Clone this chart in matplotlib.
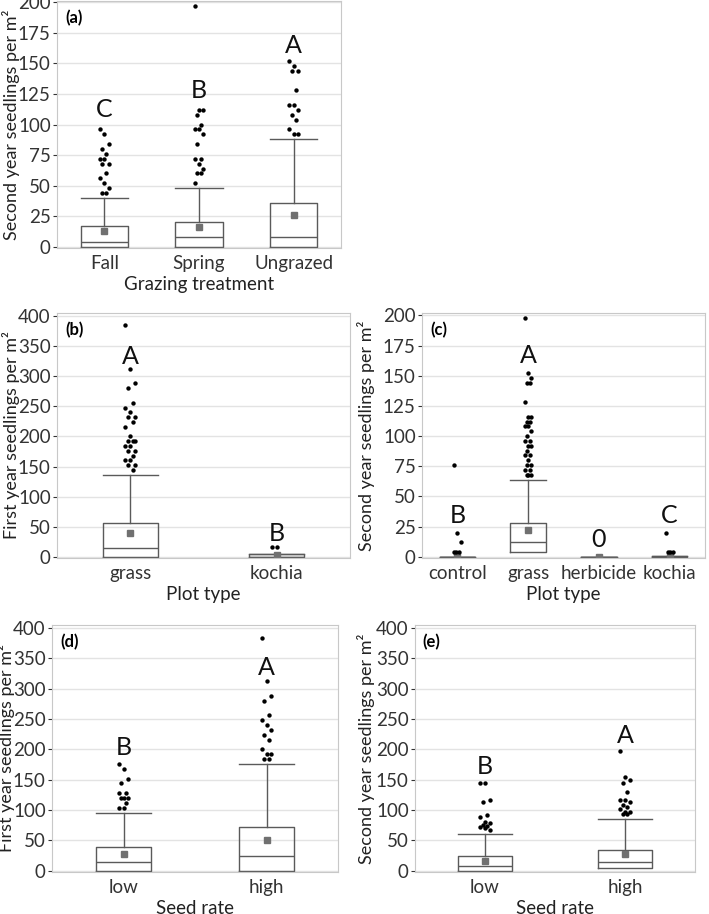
import numpy as np
import matplotlib
matplotlib.use("Agg")
import matplotlib.pyplot as plt

plt.rcParams["font.family"] = ["Lato", "DejaVu Sans"]

# ---- panel (a): second year seedlings by grazing treatment
graze_cats = ["Fall", "Spring", "Ungrazed"]
graze_q1 = [0, 0, 0]
graze_med = [3.5, 8, 8]
graze_q3 = [17, 20, 36]
graze_whi = [40, 48, 88]
graze_mean = [13, 16.5, 26]
graze_out = [
    [96, 92, 84, 80, 76, 72, 72, 68, 68, 60, 56, 52, 48, 44, 44],
    [197, 112, 112, 108, 100, 96, 96, 92, 84, 72, 72, 68, 64, 60, 60, 52],
    [152, 148, 144, 144, 128, 116, 116, 112, 108, 104, 96, 92, 92],
]
graze_letters = ["C", "B", "A"]
graze_letter_y = [112, 128, 165]

# ---- panel (b): first year seedlings by plot type
plot1_cats = ["grass", "kochia"]
plot1_q1 = [0, 0]
plot1_med = [15, 0]
plot1_q3 = [56, 4]
plot1_whi = [136, 4]
plot1_mean = [39, 3]
plot1_out = [
    [385, 312, 288, 280, 256, 248, 240, 232, 232, 224, 216, 200, 192, 192,
     192, 184, 184, 176, 176, 168, 160, 160, 152, 152, 144],
    [16, 16],
]
plot1_letters = ["A", "B"]
plot1_letter_y = [333, 39]

# ---- panel (c): second year seedlings by plot type
plot2_cats = ["control", "grass", "herbicide", "kochia"]
plot2_q1 = [0, 4, 0, 0]
plot2_med = [0, 12, 0, 0]
plot2_q3 = [0, 28, 0, 1]
plot2_whi = [0, 64, 0, 1]
plot2_mean = [0.5, 22, 0, 1]
plot2_out = [
    [76, 20, 12, 4, 4, 4],
    [198, 152, 148, 144, 144, 128, 116, 116, 112, 112, 108, 108, 104, 100,
     96, 96, 92, 92, 88, 84, 84, 80, 76, 76, 72, 72, 68, 68, 68],
    [],
    [20, 4, 4, 4],
]
plot2_letters = ["B", "A", "0", "C"]
plot2_letter_y = [34, 167, 14, 34]

# ---- panel (d): first year seedlings by seed rate
rate1_cats = ["low", "high"]
rate1_q1 = [0, 0]
rate1_med = [15, 24]
rate1_q3 = [39, 72]
rate1_whi = [96, 176]
rate1_mean = [27, 50]
rate1_out = [
    [176, 168, 152, 144, 128, 128, 120, 120, 120, 112, 104, 104],
    [383, 312, 288, 280, 256, 249, 240, 232, 224, 216, 200, 192, 192, 184, 184],
]
rate1_letters = ["B", "A"]
rate1_letter_y = [203, 335]

# ---- panel (e): second year seedlings by seed rate
rate2_cats = ["low", "high"]
rate2_q1 = [0, 4]
rate2_med = [8, 14]
rate2_q3 = [24, 35]
rate2_whi = [61, 85]
rate2_mean = [16, 27]
rate2_out = [
    [145, 145, 116, 113, 92, 88, 80, 78, 76, 74, 72, 70, 68],
    [198, 155, 150, 145, 129, 117, 117, 113, 109, 105, 101, 97, 97, 93, 93],
]
rate2_letters = ["B", "A"]
rate2_letter_y = [172, 223]

BOX_C = "#5a5a5a"
GRID_C = "#e3e3e3"
SPINE_C = "#c8c8c8"
W, H = 709, 914


def box_panel(ax, cats, q1, med, q3, whi, mean, outl, letters, letter_y,
              width, ylim, yticks, ylabel, xlabel, tag, ylab_off):
    pos = np.arange(len(cats))
    stats = []
    for i in range(len(cats)):
        stats.append(dict(q1=q1[i], med=med[i], q3=q3[i], whislo=q1[i],
                          whishi=whi[i], mean=mean[i], fliers=[]))
    ax.bxp(stats, positions=pos, widths=width, showfliers=False,
           showmeans=True, showcaps=False, manage_ticks=False,
           boxprops=dict(color=BOX_C, linewidth=1.0),
           whiskerprops=dict(color=BOX_C, linewidth=1.0),
           medianprops=dict(color=BOX_C, linewidth=1.0),
           meanprops=dict(marker="s", markersize=4.5, markerfacecolor="#707070",
                          markeredgecolor="#707070"))
    for i, p in enumerate(pos):
        # caps span the full box width
        ax.plot([p - width / 2, p + width / 2], [whi[i], whi[i]],
                color=BOX_C, lw=1.0, zorder=2)
        vals = outl[i]
        if vals:
            k = np.arange(len(vals))
            dx = (((k * 7) % 5) - 2) * width * 0.045
            ax.scatter(p + dx, vals, s=10, color="black", zorder=3,
                       linewidths=0)
        ax.text(p, letter_y[i], letters[i], ha="center", va="center",
                fontsize=18, color="#111111")
    ax.set_xlim(-0.5, len(cats) - 0.5)
    ax.set_ylim(*ylim)
    ax.set_yticks(yticks)
    ax.set_xticks(pos)
    ax.set_xticklabels(cats)
    ax.yaxis.grid(True, color=GRID_C, lw=1.0)
    ax.set_axisbelow(True)
    for s in ax.spines.values():
        s.set_color(SPINE_C)
    ax.tick_params(axis="y", labelsize=13.5, colors="#333333", length=3,
                   width=0.8, pad=1.5)
    ax.tick_params(axis="x", labelsize=13.5, colors="#333333", length=0,
                   pad=5)
    ax.set_ylabel(ylabel, fontsize=13, color="#222222")
    ax.set_xlabel(xlabel, fontsize=13.5, color="#222222", labelpad=3)
    # the label's baseline side sits at this x (pixels left of the axes)
    wpx = ax.get_position().width * W
    ax.yaxis.set_label_coords(-ylab_off / wpx, 0.5)
    ax.text(0.028, 0.965, tag, transform=ax.transAxes, fontsize=12,
            fontweight="bold", ha="left", va="top")


fig = plt.figure(figsize=(7.09, 9.14), dpi=100)


def axes_px(l, t, r, b):
    return fig.add_axes([l / W, 1 - b / H, (r - l) / W, (b - t) / H])


ax_a = axes_px(57, 1, 341, 248)
ax_b = axes_px(57, 313, 350, 558)
ax_c = axes_px(422, 313, 705, 558)
ax_d = axes_px(52, 625, 338, 872)
ax_e = axes_px(415, 625, 695, 872)

yl2 = "Second year seedlings per m\u00b2"
yl1 = "First year seedlings per m\u00b2"

box_panel(ax_a, graze_cats, graze_q1, graze_med, graze_q3, graze_whi,
          graze_mean, graze_out, graze_letters, graze_letter_y, 0.5,
          (-1, 201), range(0, 201, 25), yl2, "Grazing treatment", "(a)", 37)
box_panel(ax_b, plot1_cats, plot1_q1, plot1_med, plot1_q3, plot1_whi,
          plot1_mean, plot1_out, plot1_letters, plot1_letter_y, 0.375,
          (-2, 405), range(0, 401, 50), yl1, "Plot type", "(b)", 37)
box_panel(ax_c, plot2_cats, plot2_q1, plot2_med, plot2_q3, plot2_whi,
          plot2_mean, plot2_out, plot2_letters, plot2_letter_y, 0.5,
          (-1, 202), range(0, 201, 25), yl2, "Plot type", "(c)", 47)
box_panel(ax_d, rate1_cats, rate1_q1, rate1_med, rate1_q3, rate1_whi,
          rate1_mean, rate1_out, rate1_letters, rate1_letter_y, 0.385,
          (-2, 405), range(0, 401, 50), yl1, "Seed rate", "(d)", 37)
box_panel(ax_e, rate2_cats, rate2_q1, rate2_med, rate2_q3, rate2_whi,
          rate2_mean, rate2_out, rate2_letters, rate2_letter_y, 0.39,
          (-2, 405), range(0, 401, 50), yl2, "Seed rate", "(e)", 40)

fig.savefig("out.png", dpi=100)
